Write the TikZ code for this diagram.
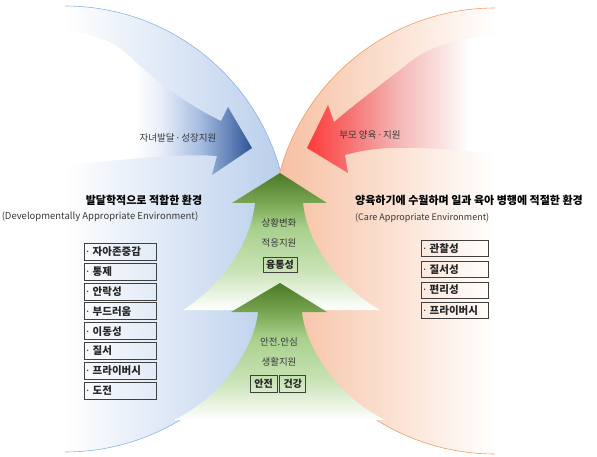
\documentclass[tikz,border=0pt]{standalone}
\usepackage{fontspec}
\setmainfont{Noto Sans CJK KR}
\newfontfamily\dotfont{Noto Sans}
\newcommand\mdot{{\dotfont ·}}
\usetikzlibrary{positioning}

\definecolor{bgblue}{RGB}{184,205,235}
\definecolor{bgblueline}{RGB}{141,180,226}
\definecolor{bgpeach}{RGB}{246,190,158}
\definecolor{bgpeachline}{RGB}{238,158,108}
\definecolor{bluedark}{RGB}{47,85,151}
\definecolor{bluemid}{RGB}{165,187,224}
\definecolor{bluepale}{RGB}{232,238,248}
\definecolor{reddark}{RGB}{255,58,58}
\definecolor{redmid}{RGB}{246,110,110}
\definecolor{redpale}{RGB}{244,182,182}
\definecolor{redfaint}{RGB}{251,230,230}
\definecolor{greendark}{RGB}{78,122,40}
\definecolor{greenhead}{RGB}{116,163,78}
\definecolor{greenmid}{RGB}{168,208,140}
\definecolor{greenlight}{RGB}{200,226,180}
\definecolor{textgray}{RGB}{56,56,56}

\pgfdeclarehorizontalshading{leftbg}{100bp}{color(0bp)=(white); color(25bp)=(white); color(75bp)=(bgblue); color(100bp)=(bgblue)}
\pgfdeclarehorizontalshading{barrow}{100bp}{color(0bp)=(white); color(25bp)=(white); color(45bp)=(white); color(52bp)=(bluepale); color(62bp)=(bluemid); color(75bp)=(bluedark); color(100bp)=(bluedark)}
\pgfdeclarehorizontalshading{rarrow}{100bp}{color(0bp)=(reddark); color(25bp)=(reddark); color(35bp)=(redmid); color(48bp)=(redpale); color(60bp)=(redfaint); color(66bp)=(white); color(100bp)=(white)}
\pgfdeclareverticalshading{greenup}{100bp}{color(0bp)=(white); color(25bp)=(white); color(40bp)=(greenlight); color(55bp)=(greenmid); color(65bp)=(greenhead); color(75bp)=(greendark); color(100bp)=(greendark)}

\begin{document}
\begin{tikzpicture}[x=1pt, y=1pt, node distance=2pt,
  lbl/.style={text=textgray, font=\fontsize{9.5}{11}\selectfont, inner sep=0pt},
  head/.style={font=\bfseries\fontsize{11}{13}\selectfont, inner sep=0pt},
  note/.style={text=textgray, font=\fontsize{9.5}{11}\selectfont, inner sep=0pt},
  tag/.style={draw=black!75, line width=0.8pt, inner sep=1pt, text=black!85, font=\bfseries\fontsize{10}{12}\selectfont},
  ltag/.style={tag, minimum height=17pt, text width=68pt, inner xsep=2pt, align=left, font=\bfseries\fontsize{10.5}{12}\selectfont},
  rtag/.style={ltag, minimum height=16pt, text width=63pt}]
\useasboundingbox (0,0) rectangle (597,-457);

% two half discs
\shade[shading=leftbg] (65,-6) arc[start angle=90, end angle=-90, radius=223] -- cycle;
\draw[bgblueline, line width=0.6pt] (65,-6) arc[start angle=90, end angle=-90, radius=223];
\shade[left color=bgpeach, right color=white] (495,-8) arc[start angle=90, end angle=270, radius=223] -- cycle;
\draw[bgpeachline, line width=0.6pt] (495,-8) arc[start angle=90, end angle=270, radius=223];

% curved arrows
\shade[shading=barrow] (55,-166) .. controls (120,-160) and (180,-153) .. (217,-156) -- (212,-175) -- (252,-148) -- (228,-107) -- (221,-121)
  .. controls (190,-106) and (160,-85) .. (128,-55) .. controls (110,-38) and (80,-30) .. (55,-30) -- cycle;
\shade[shading=rarrow] (307,-148) -- (328,-105) -- (334,-122) .. controls (360,-100) and (390,-78) .. (410,-62)
  .. controls (430,-45) and (470,-35) .. (505,-35) -- (505,-155) .. controls (470,-150) and (420,-147) .. (390,-148)
  .. controls (370,-149) and (355,-152) .. (345,-155) -- (348,-173) -- cycle;

% upward arrows
\shade[shading=greenup] (280,-173) -- (327,-203) -- (303,-203) .. controls (308,-250) and (345,-290) .. (380,-310)
  -- (183,-310) .. controls (215,-290) and (250,-250) .. (255,-203) -- (232,-203) -- cycle;
\shade[shading=greenup] (280,-283) -- (327,-312) -- (302,-312) .. controls (305,-345) and (335,-395) .. (385,-420)
  -- (174,-420) .. controls (225,-395) and (255,-345) .. (258,-312) -- (231,-312) -- cycle;

\node[lbl] (childgrow) at (178,-138) {자녀발달 \mdot{} 성장지원};
\node[lbl] (parentcare) at (370,-135) {부모 양육 \mdot{} 지원};
\node[head] (devtitle) at (144,-200) {발달학적으로 적합한 환경};
\node[note] (deven) at (100,-217) {(Developmentally Appropriate Environment)};
\node[head, anchor=west] (caretitle) at (355,-200) {양육하기에 수월하며 일과 육아 병행에 적절한 환경};
\node[note, anchor=west, font=\fontsize{9}{11}\selectfont] (careen) at (355,-218) {(Care Appropriate Environment)};

\node[lbl] (adapt) at (279,-223) {상황변화};
\node[lbl] (adaptsup) at (279,-243) {적응지원};
\node[tag, minimum width=34pt, minimum height=15pt] (flex) at (280,-264.5) {융통성};
\node[lbl] (safe) at (279,-342) {안전.안심};
\node[lbl] (safesup) at (279,-362) {생활지원};
\node[tag, minimum width=27pt, minimum height=17pt] (safety) at (263.5,-383.5) {안전};
\node[tag, minimum width=26pt, minimum height=17pt, right=2pt of safety] (health) {건강};

\node[ltag, anchor=north west] (l1) at (84,-243) {\mdot{} 자아존중감};
\node[ltag, below=of l1] (l2) {\mdot{} 통제};
\node[ltag, below=of l2] (l3) {\mdot{} 안락성};
\node[ltag, below=of l3] (l4) {\mdot{} 부드러움};
\node[ltag, below=of l4] (l5) {\mdot{} 이동성};
\node[ltag, below=of l5] (l6) {\mdot{} 질서};
\node[ltag, below=of l6] (l7) {\mdot{} 프라이버시};
\node[ltag, below=of l7] (l8) {\mdot{} 도전};

\node[rtag, anchor=north west] (r1) at (421,-240) {\mdot{} 관찰성};
\node[rtag, below=4pt of r1] (r2) {\mdot{} 질서성};
\node[rtag, below=4pt of r2] (r3) {\mdot{} 편리성};
\node[rtag, below=4pt of r3] (r4) {\mdot{} 프라이버시};
\end{tikzpicture}
\end{document}
